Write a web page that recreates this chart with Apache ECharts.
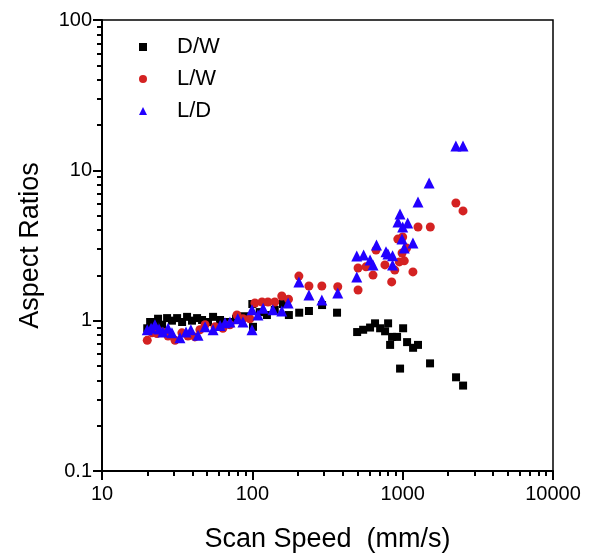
<!DOCTYPE html>
<html><head><meta charset="utf-8">
<script src="https://cdn.jsdelivr.net/npm/echarts@6/dist/echarts.min.js"></script>
<style>html,body{margin:0;padding:0;background:#fff}#c{width:600px;height:554px}</style>
</head><body><div id="c"></div>
<script>
const seriesNames = ['D/W', 'L/W', 'L/D'];
const dwX = [20,20.9,22.2,23.6,25.1,27.1,29.2,31.6,34.1,36.8,39.7,42.9,46.3,50.7,54.8,61,68.9,77.9,88.1,100,101,112,125,141,160,175,205,238,291,366,498,546,607,655,708,764,800,825,850,918,961,1007,1070,1173,1265,1521,2265,2523];
const dwY = [0.89,0.98,0.98,1.03,0.94,1.04,1.0,1.04,0.98,1.06,1.0,1.04,1.01,0.98,1.06,1.01,0.98,1.03,1.07,1.29,0.91,1.14,1.09,1.18,1.29,1.09,1.13,1.16,1.27,1.13,0.84,0.87,0.90,0.96,0.89,0.85,0.96,0.69,0.78,0.78,0.48,0.89,0.72,0.66,0.69,0.52,0.42,0.37];
const lwX = [20,21.5,23.2,25.1,27.5,30.6,34,37.3,41.5,44.8,48.5,56.5,63.7,71,79,86.6,96.3,104,116,127,141,157,174,204,238,290,370,505,505,570,635,665,762,845,886,928,1000,951,1025,1063,991,1170,1265,1527,2260,2520];
const lwY = [0.74,0.83,0.82,0.84,0.79,0.74,0.83,0.79,0.78,0.87,0.94,0.91,0.89,0.94,1.09,1.03,1.03,1.31,1.33,1.33,1.33,1.46,1.39,1.98,1.70,1.70,1.68,1.60,2.24,2.28,2.01,2.95,2.35,1.81,2.17,3.49,3.60,2.46,2.50,3.04,2.82,2.11,4.2,4.2,6.06,5.37];
const ldX = [20,21.2,22.5,24,25.4,27.5,29.2,33,36.2,39,43.5,48.5,54.8,61,65.8,71,80,86.6,99.5,99.5,109,118,137,157,173,204,238,290,370,495,495,550,607,635,670,775,857,857,798,930,960,1000,1080,990,1025,1170,1265,1500,2260,2520];
const ldY = [0.87,0.89,0.94,0.88,0.84,0.89,0.83,0.77,0.84,0.87,0.80,0.91,0.87,0.93,0.97,0.98,1.03,0.98,0.87,1.18,1.09,1.21,1.18,1.16,1.31,1.81,1.48,1.37,1.53,1.95,2.69,2.73,2.53,2.35,3.19,2.87,2.70,2.35,2.78,4.54,5.12,4.20,4.46,3.49,3.04,3.29,6.16,8.24,14.5,14.5];
const xTickLabels = ['10','100','1000','10000'];
const yTickLabels = ['0.1','1','10','100'];

const zip = (a, b) => a.map((v, i) => [v, b[i]]);
const FONT = 'Liberation Sans, Arial, sans-serif';
const chart = echarts.init(document.getElementById('c'), null, {renderer: 'canvas'});

const option = {
  animation: false,
  backgroundColor: '#fff',
  grid: {left: 102, right: 47, top: 20, bottom: 83, outerBoundsMode: 'none', containLabel: false,
    show: true, borderColor: '#000', borderWidth: 1.5, backgroundColor: 'transparent'},
  legend: {
    orient: 'vertical', left: 134, top: 31, itemGap: 10,
    itemWidth: 8, itemHeight: 8,
    textStyle: {fontFamily: FONT, fontSize: 22, color: '#000', padding: [0, 0, 0, 25]},
    data: [
      {name: 'D/W', icon: 'rect'},
      {name: 'L/W', icon: 'circle'},
      {name: 'L/D', icon: 'triangle'}
    ]
  },
  xAxis: {
    type: 'log', logBase: 10, min: 10, max: 10000,
    name: 'Scan Speed  (mm/s)', nameLocation: 'middle', nameGap: 55,
    nameTextStyle: {fontFamily: FONT, fontSize: 27, color: '#000'},
    axisLine: {show: true, lineStyle: {color: '#000', width: 2}},
    axisTick: {show: true, inside: false, length: 9, lineStyle: {color: '#000', width: 2}},
    minorTick: {show: true, splitNumber: 9, length: 5, lineStyle: {color: '#000', width: 2}},
    axisLabel: {fontFamily: FONT, fontSize: 20, color: '#000', margin: 13,
      formatter: v => { const i = Math.round(Math.log10(v)) - 1; return xTickLabels[i] || ''; }},
    splitLine: {show: false}
  },
  yAxis: {
    type: 'log', logBase: 10, min: 0.1, max: 100,
    name: 'Aspect Ratios', nameLocation: 'middle', nameGap: 58,
    nameTextStyle: {fontFamily: FONT, fontSize: 27, color: '#000'},
    axisLine: {show: true, lineStyle: {color: '#000', width: 2}},
    axisTick: {show: true, inside: false, length: 9, lineStyle: {color: '#000', width: 2}},
    minorTick: {show: true, splitNumber: 9, length: 5, lineStyle: {color: '#000', width: 2}},
    axisLabel: {fontFamily: FONT, fontSize: 20, color: '#000', margin: 10,
      formatter: v => { const i = Math.round(Math.log10(v)) + 1; return yTickLabels[i] || ''; }},
    splitLine: {show: false}
  },
  series: [
    {name: seriesNames[0], type: 'scatter', symbol: 'rect', symbolSize: 8, itemStyle: {color: '#000', opacity: 1}, data: zip(dwX, dwY)},
    {name: seriesNames[1], type: 'scatter', symbol: 'circle', symbolSize: 9, itemStyle: {color: '#d42222', opacity: 1}, data: zip(lwX, lwY)},
    {name: seriesNames[2], type: 'scatter', symbol: 'triangle', symbolSize: 11, itemStyle: {color: '#2200ff', opacity: 1}, data: zip(ldX, ldY)}
  ]
};
chart.setOption(option);
</script>
</body></html>
